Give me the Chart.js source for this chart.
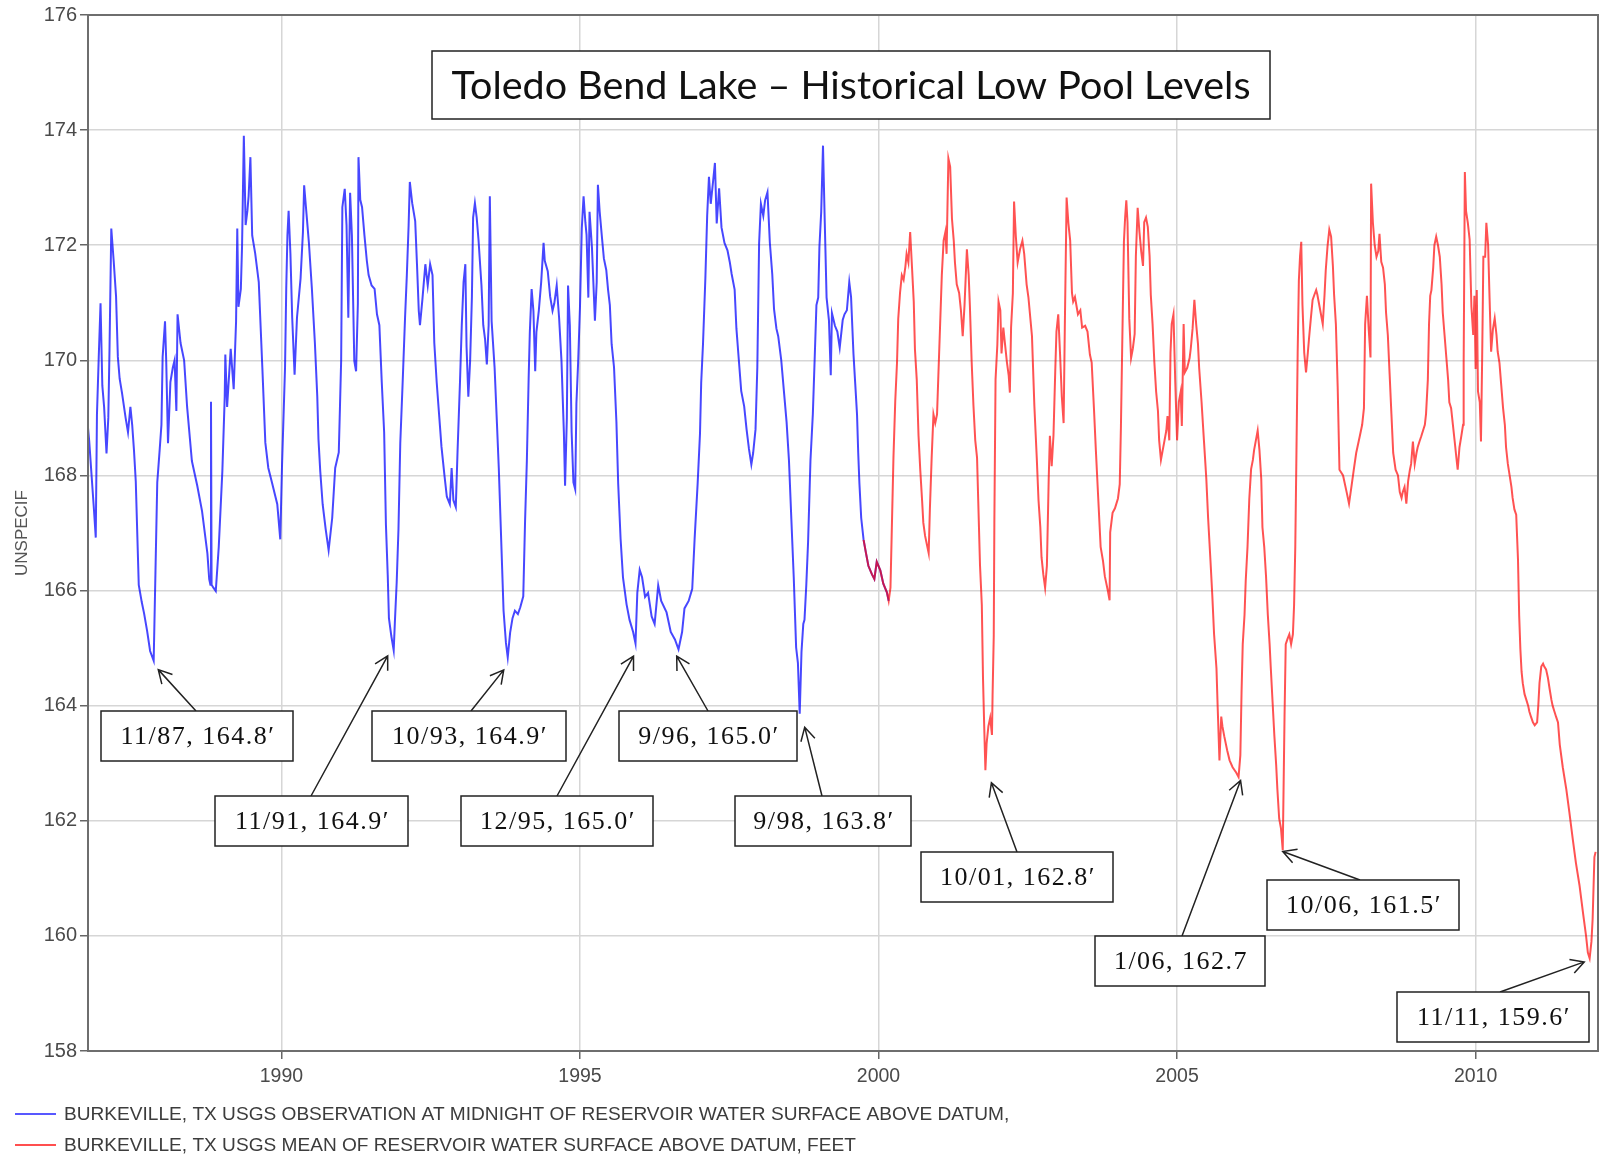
<!DOCTYPE html>
<html>
<head>
<meta charset="utf-8">
<script src="https://cdn.jsdelivr.net/npm/chart.js@4.4.0/dist/chart.umd.min.js"></script>
<style>
html, body { margin: 0; padding: 0; background: #fff; }
</style>
</head>
<body>
<canvas id="lake_chart" width="1600" height="1155"></canvas>
<script>
// Burkeville, TX - observation at midnight (blue)
var blueYears = [
  1986.75, 1986.78, 1986.82, 1986.86, 1986.89, 1986.91, 1986.94, 1986.97, 1987.00, 1987.03,
  1987.07, 1987.10, 1987.12, 1987.15, 1987.19, 1987.23, 1987.26, 1987.29, 1987.33, 1987.39,
  1987.43, 1987.47, 1987.50, 1987.53, 1987.56, 1987.61, 1987.66, 1987.70, 1987.75, 1987.80,
  1987.86, 1987.89, 1987.92, 1987.96, 1987.99, 1988.01, 1988.05, 1988.07, 1988.10, 1988.14,
  1988.18, 1988.21, 1988.24, 1988.26, 1988.31, 1988.37, 1988.42, 1988.50, 1988.59, 1988.67,
  1988.76, 1988.79, 1988.81, 1988.82, 1988.83, 1988.86, 1988.90, 1988.95, 1989.01, 1989.05,
  1989.06, 1989.09, 1989.15, 1989.20, 1989.24, 1989.26, 1989.28, 1989.32, 1989.34, 1989.37,
  1989.40, 1989.43, 1989.45, 1989.48, 1989.51, 1989.56, 1989.62, 1989.68, 1989.73, 1989.78,
  1989.84, 1989.93, 1989.98, 1990.01, 1990.06, 1990.08, 1990.10, 1990.12, 1990.15, 1990.18,
  1990.22, 1990.26, 1990.32, 1990.36, 1990.38, 1990.42, 1990.46, 1990.51, 1990.56, 1990.60,
  1990.62, 1990.65, 1990.69, 1990.74, 1990.79, 1990.85, 1990.90, 1990.96, 1990.98, 1991.00,
  1991.02, 1991.06, 1991.09, 1991.12, 1991.15, 1991.18, 1991.22, 1991.25, 1991.28, 1991.29,
  1991.32, 1991.35, 1991.39, 1991.43, 1991.46, 1991.51, 1991.56, 1991.60, 1991.64, 1991.68,
  1991.72, 1991.75, 1991.78, 1991.80, 1991.84, 1991.88, 1991.90, 1991.93, 1991.96, 1991.99,
  1992.03, 1992.07, 1992.10, 1992.13, 1992.15, 1992.19, 1992.24, 1992.27, 1992.30, 1992.32,
  1992.36, 1992.41, 1992.45, 1992.49, 1992.53, 1992.56, 1992.60, 1992.64, 1992.68, 1992.73,
  1992.77, 1992.82, 1992.85, 1992.88, 1992.92, 1992.95, 1992.99, 1993.02, 1993.05, 1993.08,
  1993.10, 1993.13, 1993.16, 1993.19, 1993.21, 1993.24, 1993.27, 1993.30, 1993.35, 1993.38,
  1993.41, 1993.44, 1993.47, 1993.49, 1993.52, 1993.57, 1993.61, 1993.64, 1993.69, 1993.72,
  1993.76, 1993.79, 1993.83, 1993.87, 1993.91, 1993.96, 1994.00, 1994.05, 1994.08, 1994.11,
  1994.14, 1994.16, 1994.19, 1994.22, 1994.25, 1994.27, 1994.31, 1994.35, 1994.39, 1994.41,
  1994.46, 1994.50, 1994.54, 1994.57, 1994.61, 1994.65, 1994.69, 1994.73, 1994.75, 1994.78,
  1994.80, 1994.83, 1994.86, 1994.89, 1994.92, 1994.94, 1994.97, 1995.00, 1995.03, 1995.06,
  1995.09, 1995.11, 1995.14, 1995.16, 1995.20, 1995.25, 1995.28, 1995.30, 1995.33, 1995.37,
  1995.40, 1995.44, 1995.47, 1995.50, 1995.53, 1995.57, 1995.61, 1995.64, 1995.68, 1995.72,
  1995.78, 1995.83, 1995.89, 1995.93, 1995.96, 1996.00, 1996.04, 1996.09, 1996.14, 1996.20,
  1996.25, 1996.31, 1996.36, 1996.45, 1996.52, 1996.59, 1996.65, 1996.71, 1996.75, 1996.82,
  1996.88, 1996.92, 1996.97, 1997.01, 1997.03, 1997.06, 1997.10, 1997.13, 1997.16, 1997.19,
  1997.23, 1997.26, 1997.29, 1997.33, 1997.37, 1997.42, 1997.47, 1997.51, 1997.54, 1997.59,
  1997.62, 1997.66, 1997.70, 1997.75, 1997.79, 1997.83, 1997.87, 1997.90, 1997.94, 1997.97,
  1998.00, 1998.03, 1998.07, 1998.10, 1998.14, 1998.18, 1998.22, 1998.25, 1998.29, 1998.32,
  1998.37, 1998.42, 1998.46, 1998.50, 1998.54, 1998.58, 1998.62, 1998.65, 1998.68, 1998.71,
  1998.74, 1998.76, 1998.79, 1998.82, 1998.86, 1998.90, 1998.93, 1998.96, 1998.99, 1999.01,
  1999.04, 1999.07, 1999.10, 1999.13, 1999.17, 1999.20, 1999.22, 1999.27, 1999.31, 1999.35,
  1999.40, 1999.43, 1999.47, 1999.51, 1999.54, 1999.58, 1999.61, 1999.64, 1999.66, 1999.68,
  1999.71, 1999.75, 1999.79, 1999.83, 1999.89, 1999.93, 1999.97, 2000.03, 2000.08, 2000.14,
  2000.17
];
var blueLevels = [
  168.94, 168.6, 168.0, 167.4, 166.92, 169.06, 170.06, 170.99, 169.56, 169.19,
  168.38, 169.0, 170.18, 172.29, 171.73, 171.11, 170.06, 169.68, 169.43, 169.0,
  168.75, 169.19, 168.88, 168.44, 167.9, 166.1, 165.8, 165.6, 165.3, 164.95,
  164.78, 166.33, 167.88, 168.44, 168.88, 170.06, 170.68, 169.99, 168.56, 169.62,
  169.87, 170.0, 169.12, 170.8, 170.3, 170.0, 169.19, 168.25, 167.82, 167.38,
  166.64, 166.2, 166.1, 169.28, 166.1, 166.05, 165.99, 166.76, 168.07, 169.37,
  170.1, 169.19, 170.2, 169.5, 170.68, 172.29, 170.93, 171.24, 171.98, 173.9,
  172.35, 172.6, 172.85, 173.53, 172.17, 171.86, 171.36, 169.87, 168.57, 168.13,
  167.88, 167.5, 166.89, 168.19, 169.87, 171.24, 172.17, 172.6, 171.86, 170.74,
  169.75, 170.74, 171.42, 172.23, 173.04, 172.54, 172.04, 171.24, 170.3, 169.37,
  168.63, 168.07, 167.5, 167.07, 166.7, 167.26, 168.13, 168.4, 169.19, 170.0,
  172.66, 172.98, 172.35, 170.74, 172.91, 172.17, 169.99, 169.81, 170.99, 173.53,
  172.79, 172.66, 172.17, 171.73, 171.48, 171.3, 171.24, 170.8, 170.61, 169.62,
  168.75, 167.14, 166.27, 165.52, 165.21, 164.96, 165.46, 166.14, 167.07, 168.56,
  169.62, 170.74, 171.48, 172.35, 173.1, 172.73, 172.42, 171.67, 170.86, 170.61,
  171.05, 171.67, 171.3, 171.67, 171.48, 170.3, 169.62, 169.06, 168.5, 168.0,
  167.63, 167.5, 168.13, 167.57, 167.45, 168.44, 169.62, 170.61, 171.36, 171.67,
  170.24, 169.37, 169.99, 171.11, 172.48, 172.73, 172.48, 172.1, 171.3, 170.61,
  170.37, 169.93, 170.61, 172.85, 170.68, 169.87, 168.88, 168.13, 166.58, 165.65,
  165.09, 164.84, 165.27, 165.52, 165.65, 165.59, 165.71, 165.9, 167.2, 168.25,
  169.68, 170.49, 171.24, 170.86, 169.81, 170.49, 170.86, 171.36, 172.04, 171.73,
  171.55, 171.11, 170.86, 170.99, 171.3, 170.74, 169.99, 168.75, 167.82, 169.0,
  171.3, 170.61, 168.75, 167.88, 167.76, 169.25, 169.99, 170.93, 172.29, 172.85,
  172.4, 172.18, 171.09, 172.58, 171.97, 170.69, 171.36, 173.05, 172.58, 172.11,
  171.77, 171.57, 171.23, 170.96, 170.28, 169.88, 168.93, 167.85, 166.9, 166.23,
  165.76, 165.49, 165.28, 165.08, 165.96, 166.36, 166.23, 165.89, 165.96, 165.55,
  165.42, 166.09, 165.82, 165.62, 165.28, 165.15, 164.98, 165.28, 165.69, 165.82,
  166.03, 166.9, 167.85, 168.73, 169.61, 170.28, 171.43, 172.51, 173.19, 172.72,
  173.12, 173.43, 172.38, 172.99, 172.31, 172.04, 171.91, 171.7, 171.5, 171.23,
  170.55, 170.01, 169.47, 169.2, 168.8, 168.46, 168.19, 168.39, 168.8, 169.88,
  172.04, 172.72, 172.51, 172.78, 172.92, 172.04, 171.5, 170.89, 170.55, 170.42,
  170.01, 169.41, 168.93, 168.26, 167.24, 166.23, 165.01, 164.74, 163.86, 164.94,
  165.42, 165.49, 166.09, 166.84, 168.26, 169.07, 170.01, 170.96, 171.09, 171.97,
  172.58, 173.73, 172.38, 171.09, 170.69, 169.74, 170.82, 170.6, 170.5, 170.22,
  170.7, 170.8, 170.87, 171.36, 171.1, 170.12, 169.59, 169.06, 168.39, 167.86,
  167.26, 166.88, 166.65, 166.43, 166.28, 166.2, 166.5, 166.35, 166.12, 165.97,
  165.82
];

// Burkeville, TX - daily mean (red)
var redYears = [
  1999.75, 1999.79, 1999.83, 1999.89, 1999.93, 1999.97, 2000.03, 2000.08, 2000.14, 2000.17,
  2000.20, 2000.22, 2000.25, 2000.28, 2000.31, 2000.33, 2000.36, 2000.39, 2000.42, 2000.45,
  2000.47, 2000.50, 2000.53, 2000.56, 2000.59, 2000.61, 2000.64, 2000.67, 2000.70, 2000.73,
  2000.75, 2000.78, 2000.81, 2000.84, 2000.86, 2000.89, 2000.92, 2000.95, 2000.98, 2001.00,
  2001.03, 2001.06, 2001.09, 2001.12, 2001.14, 2001.17, 2001.20, 2001.23, 2001.26, 2001.28,
  2001.31, 2001.35, 2001.38, 2001.41, 2001.44, 2001.48, 2001.51, 2001.53, 2001.56, 2001.59,
  2001.62, 2001.65, 2001.67, 2001.70, 2001.73, 2001.75, 2001.77, 2001.79, 2001.81, 2001.84,
  2001.87, 2001.90, 2001.91, 2001.93, 2001.94, 2001.96, 2001.99, 2002.01, 2002.04, 2002.06,
  2002.09, 2002.12, 2002.15, 2002.18, 2002.20, 2002.22, 2002.25, 2002.27, 2002.30, 2002.33,
  2002.37, 2002.41, 2002.44, 2002.48, 2002.51, 2002.57, 2002.61, 2002.65, 2002.68, 2002.71,
  2002.73, 2002.76, 2002.79, 2002.82, 2002.85, 2002.87, 2002.90, 2002.93, 2002.96, 2002.98,
  2003.01, 2003.04, 2003.07, 2003.10, 2003.12, 2003.15, 2003.18, 2003.21, 2003.24, 2003.26,
  2003.29, 2003.34, 2003.38, 2003.41, 2003.46, 2003.50, 2003.54, 2003.57, 2003.61, 2003.64,
  2003.68, 2003.72, 2003.76, 2003.79, 2003.84, 2003.87, 2003.88, 2003.92, 2003.96, 2004.01,
  2004.04, 2004.06, 2004.09, 2004.11, 2004.13, 2004.15, 2004.17, 2004.20, 2004.23, 2004.26,
  2004.29, 2004.31, 2004.34, 2004.37, 2004.40, 2004.43, 2004.45, 2004.48, 2004.51, 2004.54,
  2004.56, 2004.59, 2004.62, 2004.65, 2004.68, 2004.70, 2004.73, 2004.76, 2004.79, 2004.82,
  2004.84, 2004.87, 2004.89, 2004.91, 2004.94, 2004.97, 2005.00, 2005.03, 2005.06, 2005.08,
  2005.11, 2005.13, 2005.17, 2005.21, 2005.23, 2005.26, 2005.29, 2005.32, 2005.35, 2005.37,
  2005.41, 2005.45, 2005.49, 2005.52, 2005.56, 2005.59, 2005.62, 2005.66, 2005.68, 2005.71,
  2005.74, 2005.76, 2005.79, 2005.84, 2005.88, 2005.93, 2005.99, 2006.03, 2006.06, 2006.08,
  2006.10, 2006.13, 2006.15, 2006.18, 2006.21, 2006.24, 2006.27, 2006.29, 2006.32, 2006.35,
  2006.38, 2006.41, 2006.43, 2006.46, 2006.49, 2006.52, 2006.55, 2006.57, 2006.60, 2006.63,
  2006.66, 2006.68, 2006.71, 2006.74, 2006.77, 2006.80, 2006.82, 2006.85, 2006.88, 2006.91,
  2006.94, 2006.96, 2006.98, 2007.00, 2007.02, 2007.04, 2007.06, 2007.08, 2007.10, 2007.13,
  2007.16, 2007.19, 2007.21, 2007.24, 2007.27, 2007.30, 2007.33, 2007.35, 2007.38, 2007.41,
  2007.44, 2007.47, 2007.49, 2007.52, 2007.55, 2007.58, 2007.61, 2007.63, 2007.66, 2007.69,
  2007.72, 2007.78, 2007.84, 2007.88, 2007.92, 2007.96, 2008.00, 2008.06, 2008.10, 2008.13,
  2008.15, 2008.18, 2008.21, 2008.24, 2008.25, 2008.28, 2008.31, 2008.34, 2008.37, 2008.39,
  2008.42, 2008.45, 2008.48, 2008.50, 2008.53, 2008.56, 2008.59, 2008.62, 2008.66, 2008.70,
  2008.73, 2008.76, 2008.78, 2008.81, 2008.84, 2008.87, 2008.90, 2008.92, 2008.95, 2008.98,
  2009.01, 2009.03, 2009.06, 2009.09, 2009.12, 2009.15, 2009.17, 2009.20, 2009.22, 2009.24,
  2009.26, 2009.29, 2009.31, 2009.34, 2009.37, 2009.40, 2009.43, 2009.45, 2009.48, 2009.51,
  2009.54, 2009.56, 2009.59, 2009.62, 2009.65, 2009.68, 2009.70, 2009.73, 2009.76, 2009.79,
  2009.80, 2009.82, 2009.84, 2009.87, 2009.90, 2009.93, 2009.96, 2009.98, 2010.00, 2010.02,
  2010.04, 2010.07, 2010.09, 2010.11, 2010.13, 2010.16, 2010.18, 2010.21, 2010.23, 2010.26,
  2010.29, 2010.32, 2010.35, 2010.37, 2010.40, 2010.43, 2010.46, 2010.49, 2010.51, 2010.54,
  2010.57, 2010.60, 2010.62, 2010.65, 2010.68, 2010.71, 2010.73, 2010.75, 2010.77, 2010.79,
  2010.82, 2010.85, 2010.88, 2010.90, 2010.93, 2010.96, 2010.99, 2011.03, 2011.05, 2011.07,
  2011.10, 2011.13, 2011.15, 2011.18, 2011.21, 2011.24, 2011.27, 2011.29, 2011.32, 2011.35,
  2011.38, 2011.41, 2011.46, 2011.52, 2011.57, 2011.63, 2011.68, 2011.74, 2011.80, 2011.85,
  2011.88, 2011.91, 2011.94, 2011.96, 2011.99, 2012.01
];
var redLevels = [
  166.88, 166.65, 166.43, 166.28, 166.2, 166.5, 166.35, 166.12, 165.97, 165.82,
  166.05, 166.95, 168.31, 169.29, 169.97, 170.72, 171.17, 171.48, 171.4, 171.63,
  171.85, 171.7, 172.23, 171.63, 171.02, 170.19, 169.67, 168.69, 168.08, 167.56,
  167.18, 166.95, 166.8, 166.65, 167.41, 168.31, 169.06, 168.91, 169.06, 169.67,
  170.57, 171.48, 172.08, 172.23, 171.85, 173.51, 173.36, 172.46, 172.08, 171.7,
  171.32, 171.17, 170.87, 170.42, 170.95, 171.93, 171.48, 170.95, 169.97, 169.21,
  168.61, 168.31, 167.56, 166.43, 165.75, 164.47, 163.64, 162.88, 163.34, 163.64,
  163.79, 163.49, 164.17, 165.22, 167.18, 169.67, 170.27, 171.02, 170.87, 170.12,
  170.57, 170.27, 169.97, 169.74, 169.44, 170.57, 171.17, 172.76, 172.15, 171.7,
  171.93, 172.08, 171.85, 171.32, 171.1, 170.42, 169.21, 168.31, 167.56, 167.1,
  166.58, 166.28, 166.05, 166.43, 167.93, 168.69, 168.16, 168.69, 169.82, 170.5,
  170.8, 170.12, 169.37, 168.91, 170.57, 172.83, 172.38, 172.08, 171.17, 171.02,
  171.1, 170.8, 170.87, 170.57, 170.6, 170.5, 170.1, 169.96, 169.12, 168.44,
  167.6, 166.76, 166.51, 166.25, 166.0, 165.83, 167.01, 167.35, 167.43, 167.6,
  167.85, 168.86, 170.8, 172.06, 172.48, 172.78, 172.4, 170.72, 170.04, 170.21,
  170.46, 171.81, 172.65, 172.23, 171.89, 171.64, 172.4, 172.48, 172.32, 171.81,
  171.14, 170.63, 169.96, 169.45, 169.12, 168.61, 168.27, 168.44, 168.61, 168.78,
  169.03, 168.61, 170.13, 170.63, 170.8, 169.62, 168.61, 169.28, 169.45, 168.86,
  170.63, 169.79, 169.87, 170.04, 170.21, 170.55, 171.05, 170.63, 170.29, 169.87,
  169.28, 168.61, 167.94, 167.26, 166.51, 165.92, 165.24, 164.65, 163.98, 163.05,
  163.81, 163.64, 163.47, 163.22, 163.05, 162.93, 162.84, 162.76, 163.14, 164.23,
  165.07, 165.58, 166.17, 166.76, 167.6, 168.11, 168.27, 168.44, 168.61, 168.78,
  168.44, 167.94, 167.1, 166.76, 166.25, 165.58, 165.07, 164.65, 164.06, 163.47,
  162.97, 162.55, 162.04, 161.87, 161.49, 163.81, 165.07, 165.16, 165.24, 165.07,
  165.24, 165.75, 166.76, 168.44, 170.13, 171.39, 171.81, 172.06, 170.97, 170.13,
  169.79, 170.13, 170.38, 170.72, 171.05, 171.14, 171.22, 171.14, 170.97, 170.8,
  170.63, 171.14, 171.56, 171.98, 172.27, 172.15, 171.64, 171.14, 170.63, 169.54,
  168.1, 168.0, 167.71, 167.51, 167.8, 168.1, 168.39, 168.68, 168.88, 169.17,
  170.63, 171.12, 170.54, 170.05, 173.07, 172.39, 172.0, 171.8, 171.9, 172.2,
  171.71, 171.61, 171.32, 170.83, 170.44, 169.76, 169.07, 168.39, 168.1, 168.0,
  167.71, 167.61, 167.71, 167.8, 167.51, 167.9, 168.1, 168.2, 168.59, 168.2,
  168.39, 168.49, 168.59, 168.68, 168.78, 168.88, 169.07, 169.66, 170.63, 171.12,
  171.22, 171.61, 172.0, 172.15, 172.0, 171.8, 171.32, 170.83, 170.44, 170.05,
  169.66, 169.27, 169.17, 168.88, 168.59, 168.29, 168.1, 168.49, 168.68, 168.88,
  169.95, 173.27, 172.59, 172.39, 172.1, 170.93, 170.44, 171.12, 169.85, 171.22,
  169.46, 169.27, 168.59, 170.05, 171.8, 171.8, 172.39, 172.0, 171.22, 170.15,
  170.54, 170.73, 170.44, 170.15, 169.95, 169.56, 169.17, 168.88, 168.49, 168.2,
  168.0, 167.8, 167.61, 167.41, 167.32, 166.54, 165.56, 164.98, 164.59, 164.39,
  164.2, 164.1, 164.0, 163.9, 163.8, 163.71, 163.66, 163.71, 164.0, 164.39,
  164.68, 164.73, 164.68, 164.63, 164.49, 164.29, 164.1, 164.0, 163.9, 163.8,
  163.71, 163.32, 162.93, 162.54, 162.15, 161.66, 161.27, 160.88, 160.39, 160.0,
  159.71, 159.61, 159.9, 160.29, 161.37, 161.46
];

var yearTicks = [1990, 1995, 2000, 2005, 2010];

// historical lows called out on the chart
var lowLabels = ["11/87, 164.8\u2032", "11/91, 164.9\u2032", "10/93, 164.9\u2032", "12/95, 165.0\u2032",
  "9/96, 165.0\u2032", "9/98, 163.8\u2032", "10/01, 162.8\u2032", "1/06, 162.7", "10/06, 161.5\u2032", "11/11, 159.6\u2032"];
var lowYears = [1987.87, 1991.88, 1993.79, 1995.93, 1996.67, 1998.68, 2001.79, 2006.03, 2006.77, 2011.87];
var lowLevels = [164.8, 164.9, 164.9, 165.0, 165.0, 163.8, 162.8, 162.7, 161.5, 159.6];

// callout boxes: x, y, w, h, arrow start x, arrow tip offset dx, dy
var calloutBoxes = [
  [101, 711, 192, 50, 196, 4, 10],
  [215, 796, 193, 50, 311, -6, 2],
  [372, 711, 194, 50, 471, -4, 16],
  [461, 796, 192, 50, 557, -2, 8],
  [619, 711, 178, 50, 708, -3, 8],
  [735, 796, 176, 50, 822, 5, 10],
  [921, 852, 192, 50, 1017, 6, 8],
  [1095, 936, 170, 50, 1182, 2, 0],
  [1267, 880, 192, 50, 1360, 0, 2],
  [1397, 992, 192, 50, 1500, -3, 3]
];

function toPoints(xs, ys) {
    return xs.map(function(x, i) { return {x: x, y: ys[i]}; });
}

function drawArrow(ctx, x1, y1, x2, y2) {
    var a = Math.atan2(y2 - y1, x2 - x1);
    var len = 15, spread = 0.5;
    ctx.beginPath();
    ctx.moveTo(x1, y1);
    ctx.lineTo(x2, y2);
    ctx.moveTo(x2 - len * Math.cos(a - spread), y2 - len * Math.sin(a - spread));
    ctx.lineTo(x2, y2);
    ctx.lineTo(x2 - len * Math.cos(a + spread), y2 - len * Math.sin(a + spread));
    ctx.stroke();
}

var overlay = {
    id: "overlay",
    afterDraw: function(chart) {
        var ctx = chart.ctx;
        var area = chart.chartArea;
        var xs = chart.scales.x, ys = chart.scales.y;
        ctx.save();

        // frame around the plot
        ctx.strokeStyle = "#6e6e6e";
        ctx.lineWidth = 2;
        ctx.strokeRect(area.left, area.top, area.right - area.left, area.bottom - area.top);

        // title box
        ctx.fillStyle = "#fff";
        ctx.fillRect(432, 51, 838, 68);
        ctx.strokeStyle = "#222";
        ctx.lineWidth = 1.5;
        ctx.strokeRect(432, 51, 838, 68);
        ctx.fillStyle = "#111";
        ctx.font = "39.5px Lato";
        ctx.textAlign = "center";
        ctx.textBaseline = "middle";
        ctx.fillText("Toledo Bend Lake \u2013 Historical Low Pool Levels", 851, 86);

        // callouts
        ctx.font = "26px 'Liberation Serif'";
        ctx.letterSpacing = "1.5px";
        for (var i = 0; i < lowLabels.length; i++) {
            var b = calloutBoxes[i];
            var tx = xs.getPixelForValue(lowYears[i]) + b[5];
            var ty = ys.getPixelForValue(lowLevels[i]) + b[6];
            ctx.strokeStyle = "#222";
            ctx.lineWidth = 1.5;
            drawArrow(ctx, b[4], b[1], tx, ty);
            ctx.fillStyle = "#fff";
            ctx.fillRect(b[0], b[1], b[2], b[3]);
            ctx.strokeRect(b[0], b[1], b[2], b[3]);
            ctx.fillStyle = "#111";
            ctx.fillText(lowLabels[i], b[0] + b[2] / 2 + 1, b[1] + b[3] / 2 + 1);
        }
        ctx.letterSpacing = "0px";

        // legend
        ctx.font = "19.1px 'Liberation Sans', Arial";
        ctx.textAlign = "left";
        var sw = ["rgba(70,70,255,0.9)", "rgba(255,60,60,0.9)"];
        chart.data.datasets.forEach(function(ds, k) {
            var ly = 1114 + k * 31;
            ctx.strokeStyle = sw[k];
            ctx.lineWidth = 2;
            ctx.beginPath();
            ctx.moveTo(15, ly);
            ctx.lineTo(56, ly);
            ctx.stroke();
            ctx.fillStyle = "#3c3c3c";
            ctx.fillText(ds.label, 64, ly + 1);
        });
        ctx.restore();
    }
};

var ctx_lake = document.getElementById("lake_chart");

var chart_lake = new Chart(ctx_lake, {
    type: "line",
    data: {
        datasets: [{
            label: "BURKEVILLE, TX USGS OBSERVATION AT MIDNIGHT OF RESERVOIR WATER SURFACE ABOVE DATUM,",
            data: toPoints(blueYears, blueLevels),
            borderColor: "rgba(0, 0, 255, 0.72)",
            borderWidth: 2,
            pointRadius: 0,
            tension: 0,
            order: 1
        }, {
            label: "BURKEVILLE, TX USGS MEAN OF RESERVOIR WATER SURFACE ABOVE DATUM, FEET",
            data: toPoints(redYears, redLevels),
            borderColor: "rgba(255, 0, 0, 0.68)",
            borderWidth: 2,
            pointRadius: 0,
            tension: 0,
            order: 0
        }]
    },
    plugins: [overlay],
    options: {
        responsive: false,
        animation: false,
        devicePixelRatio: 1,
        layout: {
            padding: {top: 15, right: 2, bottom: 59, left: 0}
        },
        plugins: {
            legend: { display: false },
            tooltip: { enabled: false }
        },
        scales: {
            x: {
                type: "linear",
                min: 1986.76,
                max: 2012.05,
                afterBuildTicks: function(scale) {
                    scale.ticks = yearTicks.map(function(v) { return {value: v}; });
                },
                afterFit: function(scale) { scale.height = 45; },
                ticks: {
                    color: "#4a4a4a",
                    font: { family: "'Liberation Sans', Arial", size: 19.5 },
                    padding: 6,
                    maxRotation: 0,
                    callback: function(v) { return String(v); }
                },
                grid: { color: "#d6d6d6", lineWidth: 1.5, tickLength: 8, tickColor: "#666" },
                border: { color: "#6e6e6e", width: 2 }
            },
            y: {
                min: 158,
                max: 176,
                afterFit: function(scale) { scale.width = 88; },
                ticks: {
                    stepSize: 2,
                    color: "#4a4a4a",
                    font: { family: "'Liberation Sans', Arial", size: 20 },
                    padding: 3
                },
                grid: { color: "#d6d6d6", lineWidth: 1.5, tickLength: 8, tickColor: "#666" },
                border: { color: "#6e6e6e", width: 2 },
                title: {
                    display: true,
                    text: "UNSPECIF",
                    color: "#555",
                    font: { family: "'Liberation Sans', Arial", size: 17 },
                    padding: { top: 12, bottom: 0 }
                }
            }
        }
    }
});
</script>
</body>
</html>
